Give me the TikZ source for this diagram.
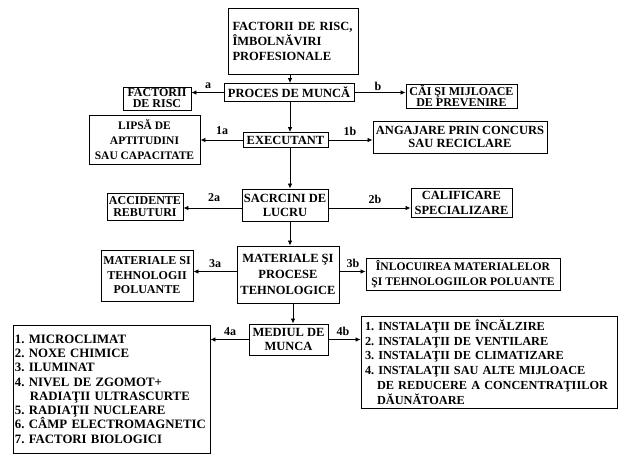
\documentclass[tikz,border=0pt]{standalone}
\usepackage{fontspec}
\setmainfont{Liberation Serif}
\usetikzlibrary{arrows.meta}
\frenchspacing
\begin{document}
\begin{tikzpicture}[x=1pt,y=-1pt,
  box/.style={draw,line width=0.9pt,inner sep=1pt,align=center,font=\bfseries\fontsize{12.5}{14}\selectfont},
  lbl/.style={font=\bfseries\fontsize{12}{13}\selectfont,inner sep=0pt},
  arr/.style={line width=0.8pt,-{Latex[length=5pt,width=4.5pt]}}]
\useasboundingbox (0,0) rectangle (630,461);
% boxes
\node[box,minimum width=130pt,minimum height=66pt,text width=121pt,align=left,inner xsep=4.5pt,font=\bfseries\fontsize{12.5}{15}\selectfont] (top) at (293,41) {FACTORII DE RISC,\\ÎMBOLNĂVIRI\\PROFESIONALE};
\node[box,minimum width=130pt,minimum height=18pt] (proc) at (289,92.5) {PROCES DE MUNCĂ};
\node[box,minimum width=68pt,minimum height=23pt,font=\bfseries\fontsize{12}{11}\selectfont] (fr) at (157,98.5) {FACTORII\\DE RISC};
\node[box,minimum width=111pt,minimum height=24pt,font=\bfseries\fontsize{12}{11.5}\selectfont] (cai) at (461.5,96) {CĂI ŞI MIJLOACE\\DE PREVENIRE};
\node[box,minimum width=111pt,minimum height=49pt,font=\bfseries\fontsize{11.5}{15}\selectfont] (lipsa) at (144.5,139.5) {LIPSĂ DE\\APTITUDINI\\SAU CAPACITATE};
\node[box,minimum width=85pt,minimum height=15pt] (exec) at (285.5,140) {EXECUTANT};
\node[box,minimum width=174pt,minimum height=32pt,font=\bfseries\fontsize{12.5}{13}\selectfont] (ang) at (460,137) {ANGAJARE PRIN CONCURS\\SAU RECICLARE};
\node[box,minimum width=76pt,minimum height=27pt,font=\bfseries\fontsize{12}{12.5}\selectfont] (acc) at (145,206.5) {ACCIDENTE\\REBUTURI};
\node[box,minimum width=86pt,minimum height=32pt] (sac) at (285,205) {SACRCINI DE\\LUCRU};
\node[box,minimum width=101pt,minimum height=29pt,font=\bfseries\fontsize{12.5}{15}\selectfont] (cal) at (461.5,202.5) {CALIFICARE\\SPECIALIZARE};
\node[box,minimum width=92pt,minimum height=51pt,font=\bfseries\fontsize{12}{14.5}\selectfont] (mst) at (147,275.5) {MATERIALE SI\\TEHNOLOGII\\POLUANTE};
\node[box,minimum width=102pt,minimum height=57pt,font=\bfseries\fontsize{12.5}{16}\selectfont] (mat) at (288,274.5) {MATERIALE ŞI\\PROCESE\\TEHNOLOGICE};
\node[box,minimum width=194pt,minimum height=32pt,font=\bfseries\fontsize{11.6}{14.5}\selectfont] (inl) at (463,274) {ÎNLOCUIREA MATERIALELOR\\ŞI TEHNOLOGIILOR POLUANTE};
\node[box,minimum width=79pt,minimum height=31pt] (med) at (288.5,339.5) {MEDIUL DE\\MUNCA};
\node[box,minimum width=197pt,minimum height=128pt,text width=193pt,inner xsep=2pt,align=left,font=\bfseries\fontsize{12.8}{14.3}\selectfont] (listL) at (111.5,389) {1. MICROCLIMAT\\2. NOXE CHIMICE\\3. ILUMINAT\\4. NIVEL DE ZGOMOT+\\\hspace*{15pt}RADIAŢII ULTRASCURTE\\5. RADIAŢII NUCLEARE\\6. CÂMP ELECTROMAGNETIC\\7. FACTORI BIOLOGICI};
\node[box,minimum width=256pt,minimum height=92pt,text width=248pt,inner xsep=4pt,align=left,font=\bfseries\fontsize{12.3}{14.8}\selectfont] (listR) at (489,362) {\mbox{1. INSTALAŢII DE ÎNCĂLZIRE}\\\mbox{2. INSTALAŢII DE VENTILARE}\\\mbox{3. INSTALAŢII DE CLIMATIZARE}\\\mbox{4. INSTALAŢII SAU ALTE MIJLOACE}\\\mbox{\hspace*{12pt}DE REDUCERE A CONCENTRAŢIILOR}\\\mbox{\hspace*{12pt}DĂUNĂTOARE}};
% spine
\coordinate (sp) at (290,0);
\coordinate (sp2) at (293,0);
\draw[arr] (top.south -| sp) -- (proc.north -| sp);
\draw[arr] (proc.south -| sp) -- (exec.north -| sp);
\draw[arr] (exec.south -| sp) -- (sac.north -| sp);
\draw[arr] (sac.south -| sp) -- (mat.north -| sp);
\draw[arr] (mat.south -| sp2) -- (med.north -| sp2);
% side arrows
\draw[arr] (proc.west) -- (proc.west -| fr.east);
\draw[arr] (proc.east) -- (proc.east -| cai.west);
\draw[arr] (exec.west) -- (exec.west -| lipsa.east);
\draw[arr] (exec.east) -- (exec.east -| ang.west);
\draw[arr] ([yshift=-3pt]sac.west) -- ([yshift=-3pt]sac.west -| acc.east);
\draw[arr] ([yshift=-3pt]sac.east) -- ([yshift=-3pt]sac.east -| cal.west);
\draw[arr] ([yshift=3pt]mat.west) -- ([yshift=3pt]mat.west -| mst.east);
\draw[arr] ([yshift=3pt]mat.east) -- ([yshift=3pt]mat.east -| inl.west);
\draw[arr] (med.west) -- (med.west -| listL.east);
\draw[arr] (med.east) -- (med.east -| listR.west);
% labels
\node[lbl] (la) at (208,86) {a};
\node[lbl] (lb) at (378,86) {b};
\node[lbl] (l1a) at (222,131) {1a};
\node[lbl] (l1b) at (350,131) {1b};
\node[lbl] (l2a) at (214,198) {2a};
\node[lbl] (l2b) at (375,199) {2b};
\node[lbl] (l3a) at (215,264) {3a};
\node[lbl] (l3b) at (353,263) {3b};
\node[lbl] (l4a) at (230,332) {4a};
\node[lbl] (l4b) at (343,331) {4b};
\end{tikzpicture}
\end{document}
